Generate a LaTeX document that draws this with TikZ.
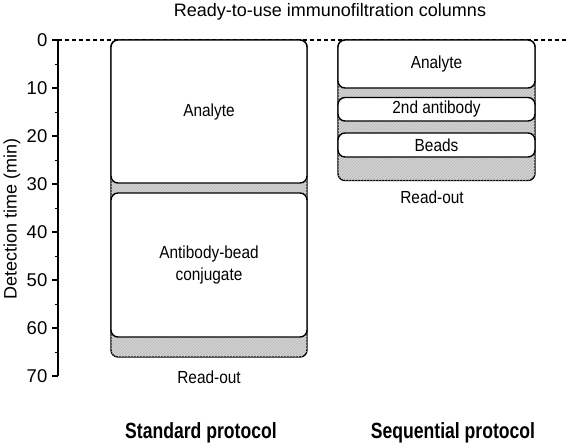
\documentclass[tikz,border=0pt]{standalone}
\usepackage{fontspec}
\setmainfont{Liberation Sans}
\newfontfamily\narrowfont[FakeStretch=0.88]{Liberation Sans}
\newfontfamily\condfont[FakeStretch=0.8]{Liberation Sans}
\usepackage{tikz}
\usetikzlibrary{positioning}
\usetikzlibrary{calc}
\usetikzlibrary{patterns}
\tikzset{every picture/.style={line width=1.4pt}}
\begin{document}
\begin{tikzpicture}[x=1pt,y=-1pt,
column/.style={draw,rounded corners=7pt,fill=gray!35,postaction={pattern=north east lines,pattern color=gray!55}},
stage/.style={draw,rounded corners=7pt,fill=white,inner sep=0pt,align=center,font=\narrowfont\fontsize{17.5}{22}\selectfont},
lbl/.style={inner sep=0pt,font=\narrowfont\fontsize{17.5}{22}\selectfont},
prot/.style={inner sep=0pt,font=\condfont\bfseries\fontsize{22}{26}\selectfont}]
\useasboundingbox (0,0) rectangle (566,445);
\node (title) at (330,12) [inner sep=0pt,font=\fontsize{18}{22}\selectfont] {Ready-to-use immunofiltration columns};
% time axis
\coordinate (t0) at (58,40);
\coordinate (t70) at (58,376);
\coordinate (tend) at (566,40);
\draw[dash pattern=on 4pt off 3pt,line width=1.2pt] (t0) -- (tend);
\draw (t0) -- (t70);
\foreach \t in {0,10,...,70} {
\draw ($(t0)+(0,\t*4.8)$) -- ++(-6,0);
\node (n\t) at ($(t0)+(-10,\t*4.8)$) [anchor=east,inner sep=0pt,font=\fontsize{18.5}{22}\selectfont] {\t};
}
\foreach \t in {5,15,...,65} {
\draw[line width=1pt] ($(t0)+(0,\t*4.8)$) -- ++(-3,0);
}
\node (ylab) at (12,219) [rotate=90,inner sep=0pt,font=\fontsize{18}{22}\selectfont] {Detection time (min)};
% standard protocol
\node (S) at (209,198.5) [column,minimum width=196,minimum height=317] {};
\node (S1) at (209,111.5) [stage,minimum width=196,minimum height=143] {Analyte};
\node (S2) at (209,265) [stage,minimum width=196,minimum height=144] {Antibody-bead\\conjugate};
\node (sr) at (209,377) [lbl] {Read-out};
\node (sp) at (201,433) [prot] {Standard protocol};
% sequential protocol
\node (Q) at (436.5,110.25) [column,minimum width=197,minimum height=140.5] {};
\node (Q1) at (436.5,64) [stage,minimum width=197,minimum height=48] {Analyte};
\node (Q2) at (436.5,109.25) [stage,minimum width=197,minimum height=23.5] {2nd antibody};
\node (Q3) at (436.5,145) [stage,minimum width=197,minimum height=24] {Beads};
\node (qr) at (432,197) [lbl] {Read-out};
\node (qp) at (453,433) [prot] {Sequential protocol};
\end{tikzpicture}
\end{document}
